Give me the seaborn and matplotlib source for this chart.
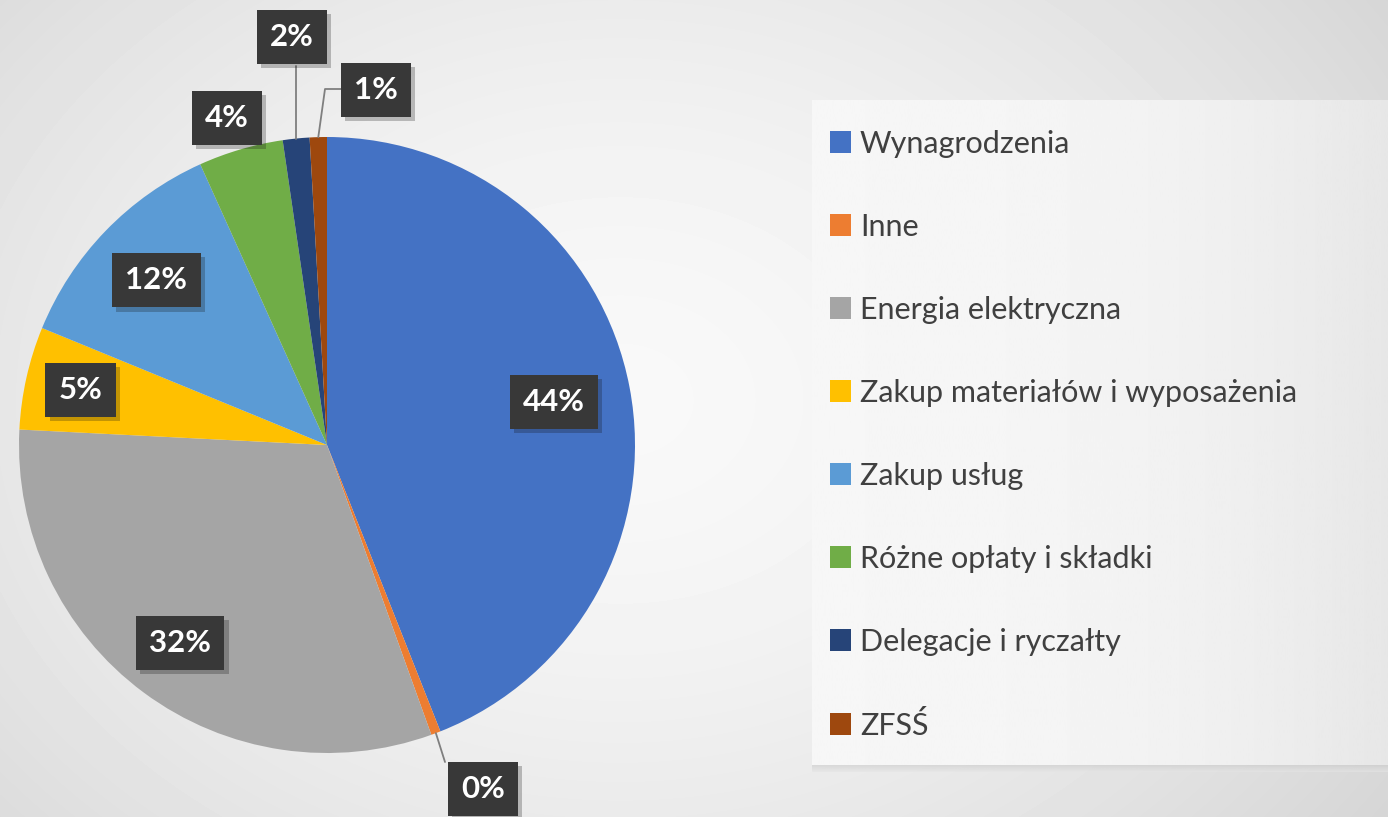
import numpy as np
import matplotlib.pyplot as plt
import matplotlib.patheffects as pe
import seaborn as sns

sns.set_theme(style="white")
plt.rcParams['font.family'] = ['Lato', 'DejaVu Sans']

categories = ["Wynagrodzenia", "Inne", "Energia elektryczna",
              "Zakup materiałów i wyposażenia", "Zakup usług",
              "Różne opłaty i składki", "Delegacje i ryczałty", "ZFSŚ"]
shares = [44.0, 0.5, 31.3, 5.4, 12.05, 4.45, 1.4, 0.9]
pct_labels = ["44%", "0%", "32%", "5%", "12%", "4%", "2%", "1%"]
colors = sns.color_palette(["#4472C4", "#ED7D31", "#A5A5A5", "#FFC000",
                            "#5B9BD5", "#70AD47", "#264478", "#9E480E"])

W, H = 1388, 817
fig = plt.figure(figsize=(W / 100, H / 100), dpi=100)

# background gradient
bg = fig.add_axes([0, 0, 1, 1], zorder=0)
yy, xx = np.mgrid[0:H, 0:W]
d = np.sqrt(((xx - 620) / 900.0) ** 2 + ((yy - 400) / 700.0) ** 2)
bg.imshow(0.975 - 0.13 * d ** 1.6, cmap="gray", vmin=0, vmax=1,
          extent=(0, W, 0, H), aspect="auto")
bg.set_axis_off()

ax = fig.add_axes([0, 0, 1, 1], zorder=1)
ax.set_xlim(0, W)
ax.set_ylim(0, H)
ax.set_axis_off()

# legend panel
px = np.linspace(0, 1, 200)
panel = 0.965 - 0.06 * px ** 2.5
ax.imshow(panel[None, :], cmap="gray", vmin=0, vmax=1,
          extent=(812, W, H - 765, H - 100), aspect="auto", zorder=1)
ax.imshow(np.linspace(0.80, 0.9, 20)[:, None] * np.ones((1, 10)), cmap="gray",
          vmin=0, vmax=1, extent=(812, W, H - 772, H - 765), aspect="auto",
          zorder=1, alpha=0.6)

cx, cy, R = 327, H - 445, 308
wedges, _ = ax.pie(shares, colors=colors, startangle=90, counterclock=False,
                   center=(cx, cy), radius=R, frame=True,
                   wedgeprops=dict(linewidth=0, zorder=2))
ax.set_xlim(0, W)
ax.set_ylim(0, H)
ax.set_axis_off()


def edge_point(w, f=1.0):
    t = np.deg2rad((w.theta1 + w.theta2) / 2)
    return cx + f * R * np.cos(t), cy + f * R * np.sin(t)


inside = {0: 0.75, 2: 0.8, 3: 0.82, 4: 0.77}
outside = {5: (227, 118), 6: (292, 37), 7: (376, 90), 1: (483, 789)}

box = dict(boxstyle="square,pad=0.42", fc="#383838", ec="none")
for i, w in enumerate(wedges):
    if i in inside:
        x, y = edge_point(w, inside[i])
    else:
        x, y = outside[i][0], H - outside[i][1]
    t = ax.text(x, y, pct_labels[i], color="white", fontsize=22.5,
                fontweight="bold", ha="center", va="center", bbox=box, zorder=5)
    t.get_bbox_patch().set_path_effects(
        [pe.withSimplePatchShadow(offset=(3, -3), alpha=0.25), pe.Normal()])

# leader lines
line_kw = dict(color="#7f7f7f", lw=1.3, zorder=4)
x2, y2 = edge_point(wedges[6])
ax.plot([x2, x2], [y2, H - 66], **line_kw)
x1, y1 = edge_point(wedges[7])
ax.plot([x1, 325, 341], [y1, H - 89, H - 89], **line_kw)
x0, y0 = edge_point(wedges[1])
ax.plot([x0, 445], [y0, H - 762], **line_kw)

leg = ax.legend(wedges, categories, loc="upper left",
                bbox_to_anchor=(830 / W, 1 - 130 / H),
                bbox_transform=fig.transFigure, frameon=False,
                fontsize=22, labelspacing=1.8, handlelength=0.68,
                handleheight=0.72, handletextpad=0.3, borderpad=0,
                borderaxespad=0)
for txt in leg.get_texts():
    txt.set_color("#404040")
leg.set_zorder(6)

fig.savefig("out.png", dpi=100)
